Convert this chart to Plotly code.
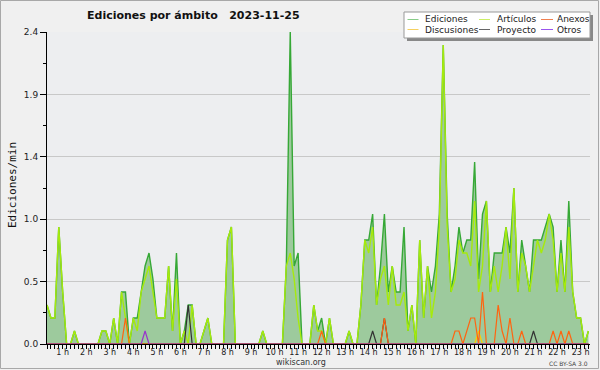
import plotly.graph_objects as go

# ---------------- data (edits per minute, 10-minute buckets) ----------------
START_H = 1 / 3      # first bucket (hours)
STEP_H = 1 / 6       # 10 minutes

ediciones = [
    0.3, 0.2, 0.2, 0.9, 0.4, 0, 0, 0.1, 0, 0,
    0, 0, 0, 0, 0.1, 0.1, 0, 0.2, 0, 0.4,
    0.4, 0, 0.2, 0.2, 0.4, 0.6, 0.7, 0.5, 0.2, 0.2,
    0.2, 0.6, 0.1, 0.7, 0, 0.1, 0.3, 0.3, 0, 0,
    0.1, 0.2, 0, 0, 0, 0, 0.8, 0.9, 0, 0,
    0, 0, 0, 0, 0, 0.1, 0, 0, 0, 0,
    0, 0.6, 2.4, 0.6, 0.7, 0, 0, 0, 0.3, 0.1,
    0.2, 0, 0.2, 0, 0, 0, 0, 0.1, 0, 0,
    0.3, 0.8, 0.8, 1.0, 0.3, 0.6, 1.0, 0.4, 0.6, 0.4,
    0.4, 0.9, 0.1, 0.3, 0, 0.8, 0.2, 0.6, 0.4, 0.6,
    1.0, 2.3, 1.0, 0.4, 0.6, 0.9, 0.7, 0.8, 0.8, 1.4,
    0.5, 1.0, 1.1, 0.4, 0.7, 0.7, 0.7, 0.9, 0.7, 1.2,
    0.4, 0.8, 0.6, 0.4, 0.8, 0.8, 0.8, 0.9, 1.0, 0.9,
    0.4, 0.8, 0.4, 1.1, 0.4, 0.2, 0.2, 0, 0.1,
]
articulos = [
    0.3, 0.2, 0.2, 0.9, 0.4, 0, 0, 0.1, 0, 0,
    0, 0, 0, 0, 0.1, 0.1, 0, 0.2, 0, 0.4,
    0.2, 0, 0.2, 0.1, 0.4, 0.5, 0.6, 0.4, 0.2, 0.2,
    0.2, 0.6, 0.1, 0.5, 0, 0.1, 0, 0.3, 0, 0,
    0.1, 0.2, 0, 0, 0, 0, 0.8, 0.9, 0, 0,
    0, 0, 0, 0, 0, 0.1, 0, 0, 0, 0,
    0, 0.6, 0.7, 0.5, 0.2, 0, 0, 0, 0.3, 0.1,
    0.1, 0, 0.2, 0, 0, 0, 0, 0.1, 0, 0,
    0.3, 0.8, 0.7, 0.9, 0.3, 0.5, 0.6, 0.3, 0.6, 0.3,
    0.3, 0.4, 0.1, 0.3, 0, 0.8, 0.2, 0.6, 0.2, 0.4,
    0.9, 2.3, 0.9, 0.4, 0.5, 0.8, 0.7, 0.7, 0.6, 1.1,
    0.4, 0.6, 1.1, 0.4, 0.6, 0.4, 0.6, 0.9, 0.5, 1.2,
    0.4, 0.7, 0.6, 0.4, 0.6, 0.8, 0.7, 0.8, 1.0, 0.8,
    0.4, 0.7, 0.4, 0.9, 0.4, 0.2, 0.2, 0, 0.1,
]
anexos = [
    0, 0, 0, 0, 0, 0, 0, 0, 0, 0,
    0, 0, 0, 0, 0, 0, 0, 0, 0, 0,
    0.2, 0, 0, 0, 0, 0, 0, 0, 0, 0,
    0, 0, 0, 0, 0, 0, 0, 0, 0, 0,
    0, 0, 0, 0, 0, 0, 0, 0, 0, 0,
    0, 0, 0, 0, 0, 0, 0, 0, 0, 0,
    0, 0, 0, 0, 0, 0, 0, 0, 0, 0,
    0.1, 0, 0, 0, 0, 0, 0, 0, 0, 0,
    0, 0, 0, 0, 0, 0, 0.2, 0, 0, 0,
    0, 0, 0, 0, 0, 0, 0, 0, 0, 0,
    0, 0, 0, 0, 0.1, 0.1, 0, 0.1, 0.2, 0.2,
    0, 0.4, 0, 0, 0, 0.3, 0.1, 0, 0.2, 0,
    0, 0.1, 0, 0, 0, 0, 0, 0, 0, 0.1,
    0, 0.1, 0, 0.1, 0, 0, 0, 0, 0,
]
discusiones = [
    0, 0, 0, 0, 0, 0, 0, 0, 0, 0,
    0, 0, 0, 0, 0, 0, 0, 0, 0, 0,
    0, 0, 0, 0, 0, 0, 0, 0, 0, 0,
    0, 0, 0, 0, 0, 0, 0, 0, 0, 0,
    0, 0, 0, 0, 0, 0, 0, 0, 0, 0,
    0, 0, 0, 0, 0, 0, 0, 0, 0, 0,
    0, 0, 0, 0, 0, 0, 0, 0, 0, 0,
    0, 0, 0, 0, 0, 0, 0, 0, 0, 0,
    0, 0, 0, 0, 0, 0, 0, 0, 0, 0,
    0, 0, 0, 0, 0, 0, 0, 0, 0, 0,
    0, 0, 0, 0, 0, 0, 0, 0, 0, 0,
    0.1, 0, 0, 0, 0, 0, 0, 0, 0, 0,
    0, 0, 0, 0, 0, 0, 0, 0, 0, 0,
    0, 0, 0, 0, 0, 0, 0, 0, 0,
]
proyecto = [
    0, 0, 0, 0, 0, 0, 0, 0, 0, 0,
    0, 0, 0, 0, 0, 0, 0, 0, 0, 0,
    0, 0, 0, 0, 0, 0, 0, 0, 0, 0,
    0, 0, 0, 0, 0, 0, 0.3, 0, 0, 0,
    0, 0, 0, 0, 0, 0, 0, 0, 0, 0,
    0, 0, 0, 0, 0, 0, 0, 0, 0, 0,
    0, 0, 0, 0, 0, 0, 0, 0, 0, 0,
    0, 0, 0, 0, 0, 0, 0, 0, 0, 0,
    0, 0, 0, 0.1, 0, 0, 0.2, 0, 0, 0,
    0, 0, 0, 0, 0, 0, 0, 0, 0, 0,
    0, 0, 0, 0, 0, 0, 0, 0, 0, 0,
    0, 0, 0, 0, 0, 0, 0, 0, 0, 0,
    0, 0, 0, 0, 0.1, 0, 0, 0, 0, 0,
    0, 0, 0, 0, 0, 0, 0, 0, 0,
]
otros = [
    0, 0, 0, 0, 0, 0, 0, 0, 0, 0,
    0, 0, 0, 0, 0, 0, 0, 0, 0, 0,
    0, 0, 0, 0, 0, 0.1, 0, 0, 0, 0,
    0, 0, 0, 0, 0, 0, 0, 0, 0, 0,
    0, 0, 0, 0, 0, 0, 0, 0, 0, 0,
    0, 0, 0, 0, 0, 0, 0, 0, 0, 0,
    0, 0, 0, 0, 0, 0, 0, 0, 0, 0,
    0, 0, 0, 0, 0, 0, 0, 0, 0, 0,
    0, 0, 0, 0, 0, 0, 0, 0, 0, 0,
    0, 0, 0, 0, 0, 0, 0, 0, 0, 0,
    0, 0, 0, 0, 0, 0, 0, 0, 0, 0,
    0, 0, 0, 0, 0, 0, 0, 0, 0, 0,
    0, 0, 0, 0, 0, 0, 0, 0, 0, 0,
    0, 0, 0, 0, 0, 0, 0, 0, 0,
]

hour_ticks = list(range(1, 24))
hour_labels = [f"{h} h" for h in hour_ticks]
y_ticks = [0, 0.48, 0.96, 1.44, 1.92, 2.4]
y_labels = ["0.0", "0.5", "1.0", "1.4", "1.9", "2.4"]

series_names = ["Ediciones", "Artículos", "Anexos", "Discusiones", "Proyecto", "Otros"]
series_colors = {
    "Ediciones": "#36a836",
    "Artículos": "#a6ea0c",
    "Anexos": "#ff6410",
    "Discusiones": "#ffcc00",
    "Proyecto": "#333333",
    "Otros": "#9933cc",
}
legend_colors = {
    "Ediciones": "#88cc88",
    "Artículos": "#ccee66",
    "Anexos": "#f08050",
    "Discusiones": "#f5d060",
    "Proyecto": "#666666",
    "Otros": "#9955ee",
}

# ---------------- geometry helpers (page pixels -> paper) ----------------
W, H = 600, 370
ML, MR, MT, MB = 47, 10, 32, 26
PW, PH = W - ML - MR, H - MT - MB


def px(x):
    return (x - ML) / PW


def py(y):
    return (H - MB - y) / PH


x_hours = [START_H + i * STEP_H for i in range(len(ediciones))]
X_END = START_H + PW / 23.54

fig = go.Figure()
fig.add_trace(go.Scatter(
    x=x_hours, y=ediciones, mode="lines", name="Ediciones",
    line=dict(color=series_colors["Ediciones"], width=1.4),
    fill="tozeroy", fillcolor="#9dca9d", showlegend=False,
))
fig.add_trace(go.Scatter(
    x=x_hours, y=articulos, mode="lines", name="Artículos",
    line=dict(color=series_colors["Artículos"], width=1.4), showlegend=False,
))
for name, vals in [("Discusiones", discusiones), ("Proyecto", proyecto),
                   ("Anexos", anexos), ("Otros", otros)]:
    fig.add_trace(go.Scatter(
        x=x_hours, y=vals, mode="lines", name=name,
        line=dict(color=series_colors[name], width=1.2), showlegend=False,
    ))

shapes = []
annotations = []

# outer frame
shapes.append(dict(type="rect", xref="paper", yref="paper",
                   x0=px(0.5), x1=px(598.5), y0=py(0.5), y1=py(368.5),
                   line=dict(color="#a8a8a8", width=1), layer="below"))

# legend box with shadow
shapes.append(dict(type="rect", xref="paper", yref="paper",
                   x0=px(407), x1=px(593), y0=py(15), y1=py(41),
                   line=dict(width=0), fillcolor="#888888", layer="above"))
shapes.append(dict(type="rect", xref="paper", yref="paper",
                   x0=px(404), x1=px(590), y0=py(12), y1=py(38),
                   line=dict(color="#999999", width=1), fillcolor="#ffffff", layer="above"))

col_line_x = [(407.5, 418.5), (479, 490), (541, 553)]
col_text_x = [423, 495, 555]
row_y = [19.5, 29.5]
for k, name in enumerate(series_names):
    r, c = divmod(k, 3)
    x0, x1 = col_line_x[c]
    shapes.append(dict(type="line", xref="paper", yref="paper",
                       x0=px(x0), x1=px(x1), y0=py(row_y[r]), y1=py(row_y[r]),
                       line=dict(color=legend_colors[name], width=1), layer="above"))
    annotations.append(dict(xref="paper", yref="paper", x=px(col_text_x[c]), y=py(row_y[r]),
                            text=name, showarrow=False, xanchor="left", yanchor="middle",
                            font=dict(family="DejaVu Sans", size=9, color="#222222")))

# title
annotations.append(dict(xref="paper", yref="paper", x=px(85), y=py(15.5),
                        text="<b>Ediciones por ámbito\u00a0\u00a0\u00a02023-11-25</b>",
                        showarrow=False, xanchor="left", yanchor="middle",
                        font=dict(family="DejaVu Sans", size=11, color="#111111"),
                        ))
# y axis title
annotations.append(dict(xref="paper", yref="paper", x=px(12), y=py(185),
                        text="Ediciones/min", textangle=-90, showarrow=False,
                        xanchor="center", yanchor="middle",
                        font=dict(family="DejaVu Sans Mono", size=11, color="#111111")))
# footer texts
annotations.append(dict(xref="paper", yref="paper", x=px(301), y=py(362),
                        text="wikiscan.org", showarrow=False, xanchor="center", yanchor="middle",
                        font=dict(family="DejaVu Sans", size=8, color="#333333")))
annotations.append(dict(xref="paper", yref="paper", x=px(590), y=py(363),
                        text="CC BY-SA 3.0", showarrow=False, xanchor="right", yanchor="middle",
                        font=dict(family="DejaVu Sans", size=6, color="#444444")))

fig.update_layout(
    width=W, height=H, autosize=False,
    margin=dict(l=ML, r=MR, t=MT, b=MB, pad=0),
    paper_bgcolor="#f0f0f0", plot_bgcolor="#edeef0",
    showlegend=False,
    shapes=shapes, annotations=annotations,
    xaxis=dict(
        range=[START_H, X_END], tickvals=hour_ticks, ticktext=hour_labels,
        ticks="outside", ticklen=4, tickwidth=1, tickcolor="#000000",
        ticklabelstandoff=-4,
        showline=True, linecolor="#000000", linewidth=1,
        showgrid=False, zeroline=False,
        tickfont=dict(family="DejaVu Sans", size=8, color="#222222"),
        minor=dict(dtick=STEP_H, tick0=0, ticks="outside", ticklen=4,
                   tickcolor="#000000", tickwidth=1, showgrid=False),
        fixedrange=True,
    ),
    yaxis=dict(
        range=[0, 2.4], tickvals=y_ticks, ticktext=y_labels,
        ticks="outside", ticklen=6, tickwidth=1, tickcolor="#000000",
        showline=True, linecolor="#000000", linewidth=1,
        showgrid=True, gridcolor="#c8c8c8", gridwidth=1, zeroline=False,
        tickfont=dict(family="DejaVu Sans", size=9, color="#222222"),
        minor=dict(dtick=0.24, tick0=0, ticks="outside", ticklen=3,
                   tickcolor="#000000", tickwidth=1, showgrid=False),
        fixedrange=True,
    ),
)

fig.write_html("out.html", config={"displayModeBar": False},
               post_script="document.body.style.margin='0px';")
